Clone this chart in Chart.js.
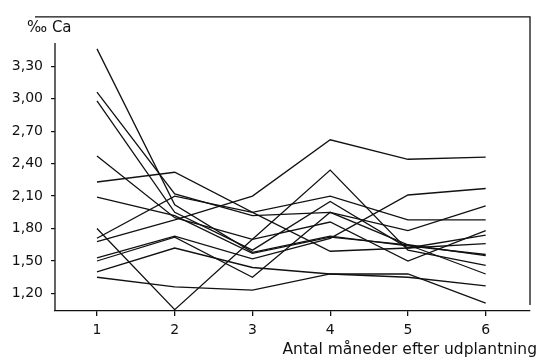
<!DOCTYPE html>
<html>
<head>
<meta charset="utf-8">
<script src="https://cdn.jsdelivr.net/npm/chart.js@4/dist/chart.umd.min.js"></script>
<style>
  html, body { margin: 0; padding: 0; background: #fff; }
  #wrap { width: 541px; height: 361px; }
</style>
</head>
<body>
<div id="wrap"><canvas id="caChart" width="541" height="361"></canvas></div>
<script>
// data
const months = [1, 2, 3, 4, 5, 6];
const yTicks = [1.2, 1.5, 1.8, 2.1, 2.4, 2.7, 3.0, 3.3];

const plant1 = [3.46, 2.02, 1.58, 1.73, 1.64, 1.56];
const plant2 = [3.06, 2.12, 1.92, 1.95, 1.78, 2.01];
const plant3 = [2.98, 1.95, 1.60, 2.05, 1.62, 1.66];
const plant4 = [2.47, 1.90, 1.70, 1.86, 1.50, 1.78];
const plant5 = [2.23, 2.32, 1.95, 2.10, 1.88, 1.88];
const plant6 = [2.09, 1.92, 1.57, 1.72, 1.65, 1.38];
const plant7 = [1.80, 1.05, 1.70, 2.34, 1.60, 1.46];
const plant8 = [1.71, 2.10, 1.95, 1.59, 1.62, 1.74];
const plant9 = [1.68, 1.88, 2.10, 2.62, 2.44, 2.46];
const plant10 = [1.53, 1.73, 1.52, 1.71, 2.11, 2.17];
const plant11 = [1.50, 1.72, 1.35, 1.95, 1.65, 1.55];
const plant12 = [1.40, 1.62, 1.44, 1.38, 1.38, 1.11];
const plant13 = [1.35, 1.26, 1.23, 1.38, 1.35, 1.27];

const allSeries = [plant1, plant2, plant3, plant4, plant5, plant6, plant7,
                   plant8, plant9, plant10, plant11, plant12, plant13];

const ink = '#111';
const fontFam = '"DejaVu Sans", sans-serif';

// Frame + labels that sit outside the normal axis layout
const framePlugin = {
    id: 'frame',
    afterDraw(chart) {
        const { ctx, chartArea } = chart;
        ctx.save();
        ctx.strokeStyle = ink;
        ctx.lineWidth = 1.3;
        ctx.beginPath();
        // top border
        ctx.moveTo(35, chartArea.top + 0.5);
        ctx.lineTo(chartArea.right, chartArea.top + 0.5);
        // right border
        ctx.lineTo(chartArea.right, chartArea.bottom - 6);
        // left axis
        ctx.moveTo(chartArea.left, 43);
        ctx.lineTo(chartArea.left, chartArea.bottom);
        ctx.stroke();

        ctx.fillStyle = ink;
        ctx.font = '15px ' + fontFam;
        ctx.textBaseline = 'middle';
        ctx.textAlign = 'left';
        ctx.fillText('‰ Ca', 27, 28);
        ctx.font = '15.5px ' + fontFam;
        ctx.textAlign = 'right';
        ctx.fillText('Antal måneder efter udplantning', 537, 350);
        ctx.restore();
    }
};

new Chart(document.getElementById('caChart').getContext('2d'), {
    type: 'line',
    data: {
        datasets: allSeries.map((vals, i) => ({
            label: 'Plante ' + (i + 1),
            data: months.map((m, j) => ({ x: m, y: vals[j] })),
            borderColor: ink,
            borderWidth: 1.3,
            pointRadius: 0,
            tension: 0,
            fill: false
        }))
    },
    options: {
        responsive: false,
        animation: false,
        layout: { padding: { top: 9, right: 11, left: 0, bottom: 0 } },
        plugins: {
            legend: { display: false },
            tooltip: { enabled: false }
        },
        scales: {
            x: {
                type: 'linear',
                min: 0.46,
                max: 6.57,
                afterBuildTicks: (scale) => { scale.ticks = months.map(v => ({ value: v })); },
                afterFit: (scale) => { scale.height = 50; },
                grid: { drawOnChartArea: false, tickLength: 5, color: ink, lineWidth: 1.3 },
                border: { display: true, color: ink, width: 1.3 },
                ticks: {
                    color: ink,
                    padding: 6,
                    font: { family: fontFam, size: 14 },
                    callback: (v) => String(v)
                }
            },
            y: {
                min: 1.038,
                max: 3.76,
                afterBuildTicks: (scale) => { scale.ticks = yTicks.map(v => ({ value: v })); },
                afterFit: (scale) => { scale.width = 55; },
                grid: { drawOnChartArea: false, tickLength: 4, color: ink, lineWidth: 1.2 },
                border: { display: false },
                ticks: {
                    color: ink,
                    padding: 8,
                    font: { family: fontFam, size: 14 },
                    callback: (v) => v.toFixed(2).replace('.', ',')
                }
            }
        }
    },
    plugins: [framePlugin]
});
</script>
</body>
</html>
